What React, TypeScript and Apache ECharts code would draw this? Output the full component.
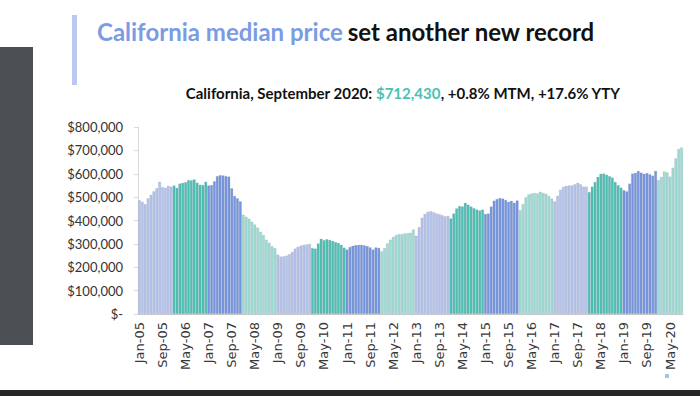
import React, { useEffect, useRef } from "react";
import * as echarts from "echarts";

const MONTHS = ["Jan", "Feb", "Mar", "Apr", "May", "Jun", "Jul", "Aug", "Sep", "Oct", "Nov", "Dec"];
const YEARS = ["05", "06", "07", "08", "09", "10", "11", "12", "13", "14", "15", "16", "17", "18", "19", "20"];

const y2005 = [487000, 480000, 470000, 495000, 510000, 525000, 538000, 566000, 543000, 540000, 548000, 545000];
const y2006 = [550000, 540000, 558000, 561000, 564000, 573000, 572000, 576000, 562000, 553000, 552000, 566000];
const y2007 = [550000, 552000, 568000, 590000, 594000, 593000, 590000, 588000, 538000, 505000, 495000, 482000];
const y2008 = [425000, 416000, 408000, 395000, 383000, 370000, 352000, 338000, 318000, 305000, 290000, 282000];
const y2009 = [254000, 246000, 247000, 250000, 256000, 266000, 280000, 288000, 293000, 296000, 298000, 300000];
const y2010 = [282000, 280000, 302000, 322000, 316000, 320000, 317000, 313000, 308000, 304000, 296000, 284000];
const y2011 = [276000, 287000, 292000, 295000, 296000, 296000, 294000, 291000, 285000, 276000, 285000, 283000];
const y2012 = [268000, 282000, 302000, 318000, 330000, 338000, 342000, 342000, 345000, 346000, 348000, 362000];
const y2013 = [335000, 372000, 412000, 428000, 437000, 440000, 436000, 430000, 427000, 423000, 418000, 420000];
const y2014 = [409000, 430000, 452000, 462000, 460000, 476000, 468000, 460000, 453000, 447000, 443000, 447000];
const y2015 = [428000, 430000, 460000, 485000, 492000, 496000, 494000, 488000, 480000, 484000, 476000, 486000];
const y2016 = [444000, 470000, 500000, 512000, 516000, 518000, 516000, 523000, 518000, 514000, 505000, 494000];
const y2017 = [482000, 506000, 532000, 544000, 548000, 550000, 550000, 555000, 561000, 555000, 545000, 545000];
const y2018 = [522000, 545000, 565000, 587000, 600000, 601000, 596000, 590000, 584000, 565000, 551000, 541000];
const y2019 = [530000, 525000, 558000, 601000, 604000, 612000, 605000, 600000, 603000, 598000, 592000, 612000];
const y2020 = [573000, 587000, 610000, 606000, 588000, 626000, 666000, 706000, 712430];

const YEAR_DATA = [y2005, y2006, y2007, y2008, y2009, y2010, y2011, y2012, y2013, y2014, y2015, y2016, y2017, y2018, y2019, y2020];
const YEAR_COLORS = ["#b4c3ea", "#4dc0b3", "#7595de", "#9edcd3"];

const FONT = "Lato, 'Open Sans', 'DejaVu Sans', sans-serif";
const AXIS_FONT = "'DejaVu Sans', Lato, sans-serif";

export default function App() {
  const ref = useRef<HTMLDivElement>(null);

  useEffect(() => {
    if (!ref.current) return;
    const chart = echarts.init(ref.current, null, { renderer: "svg" });

    const categories: string[] = [];
    const data: any[] = [];
    YEAR_DATA.forEach((vals, yi) => {
      vals.forEach((v, mi) => {
        categories.push(MONTHS[mi] + "-" + YEARS[yi]);
        data.push({ value: v, itemStyle: { color: YEAR_COLORS[yi % 4] } });
      });
    });

    chart.setOption({
      animation: false,
      backgroundColor: "#ffffff",
      title: [
        {
          left: 92,
          top: 14,
          text: "{a|California median price} {b|set another new record}",
          textStyle: {
            rich: {
              a: { fontFamily: FONT, fontSize: 24, fontWeight: "bold", color: "#7b9be2" },
              b: { fontFamily: FONT, fontSize: 24, fontWeight: "bold", color: "#111111" },
            },
          },
        },
        {
          left: 398,
          top: 80,
          textAlign: "center",
          text: "{b|California, September 2020: }{a|$712,430}{b|, +0.8% MTM, +17.6% YTY}",
          textStyle: {
            rich: {
              a: { fontFamily: FONT, fontSize: 15, fontWeight: "bold", color: "#4dc0b3" },
              b: { fontFamily: FONT, fontSize: 15, fontWeight: "bold", color: "#111111" },
            },
          },
        },
      ],
      graphic: [
        { type: "rect", left: 0, top: 47, shape: { x: 0, y: 0, width: 33, height: 298 }, style: { fill: "#4b4e53" } },
        { type: "rect", left: 72, top: 15, shape: { x: 0, y: 0, width: 5, height: 70 }, style: { fill: "#b9c9f0" } },
        { type: "rect", left: 0, top: 390, shape: { x: 0, y: 0, width: 700, height: 6 }, style: { fill: "#262626" } },
        { type: "rect", left: 665, top: 374, shape: { x: 0, y: 0, width: 4, height: 4 }, style: { fill: "#a9c1e8" } },
      ],
      grid: { left: 138, right: 17, top: 127, bottom: 82 },
      xAxis: {
        type: "category",
        data: categories,
        axisLine: { lineStyle: { color: "#c8c8c8" } },
        axisTick: { interval: 7, alignWithLabel: true, length: 4, lineStyle: { color: "#c8c8c8" } },
        axisLabel: { interval: 7, rotate: 90, fontSize: 13, color: "#383838", fontFamily: AXIS_FONT, margin: 8 },
      },
      yAxis: {
        type: "value",
        min: 0,
        max: 800000,
        interval: 100000,
        splitLine: { show: false },
        axisLine: { show: true, lineStyle: { color: "#d9d9d9" } },
        axisTick: { show: true, length: 4, lineStyle: { color: "#d9d9d9" } },
        axisLabel: {
          fontSize: 13,
          color: "#333333",
          fontFamily: FONT,
          margin: 15,
          formatter: (v: number) => (v === 0 ? "$-" : "$" + v.toLocaleString("en-US")),
        },
      },
      series: [
        {
          type: "bar",
          data,
          barCategoryGap: "0%",
          itemStyle: { borderColor: "rgba(140,140,160,0.35)", borderWidth: 0.5 },
        },
      ],
    });

    return () => chart.dispose();
  }, []);

  return <div ref={ref} style={{ position: "fixed", left: 0, top: 0, width: 700, height: 396 }} />;
}
